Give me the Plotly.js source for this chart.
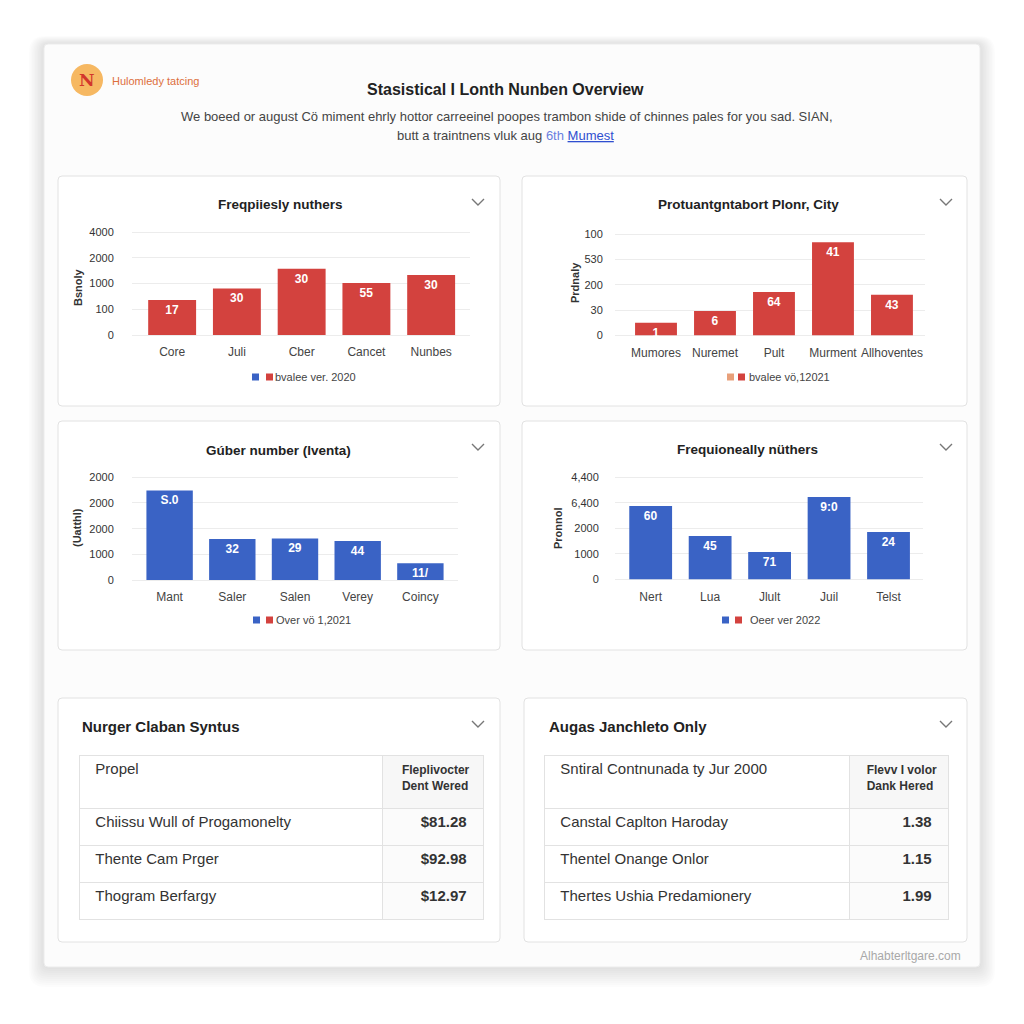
<!DOCTYPE html>
<html>
<head>
<meta charset="utf-8">
<script src="https://cdn.plot.ly/plotly-3.0.1.min.js"></script>
<style>
html,body{margin:0;padding:0;background:#ffffff;overflow:hidden;}
#chart{width:1024px;height:1024px;}
</style>
</head>
<body>
<div id="chart"></div>
<script>
// ---------- DATA ----------
const c1Title = 'Freqpiiesly nuthers';
const c1Cats = ['Core', 'Juli', 'Cber', 'Cancet', 'Nunbes'];
const c1Vals = [1.36, 1.81, 2.57, 2.02, 2.33];
const c1Labels = ['17', '30', '30', '55', '30'];
const c1Ticks = ['0', '100', '1000', '2000', '4000'];
const c1YTitle = 'Bsnoly';
const c1Legend = 'bvalee ver. 2020';

const c2Title = 'Protuantgntabort Plonr, City';
const c2Cats = ['Mumores', 'Nuremet', 'Pult', 'Murment', 'Allhoventes'];
const c2Vals = [0.5, 0.96, 1.71, 3.69, 1.61];
const c2Labels = ['1', '6', '64', '41', '43'];
const c2Ticks = ['0', '30', '200', '530', '100'];
const c2YTitle = 'Prdnaly';
const c2Legend = 'bvalee vö,12021';

const c3Title = 'Gúber number (lventa)';
const c3Cats = ['Mant', 'Saler', 'Salen', 'Verey', 'Coincy'];
const c3Vals = [3.49, 1.6, 1.62, 1.52, 0.65];
const c3Labels = ['S.0', '32', '29', '44', '11/'];
const c3Ticks = ['0', '1000', '2000', '2000', '2000'];
const c3YTitle = '(Uatthl)';
const c3Legend = 'Over vö 1,2021';

const c4Title = 'Frequioneally nüthers';
const c4Cats = ['Nert', 'Lua', 'Jlult', 'Juil', 'Telst'];
const c4Vals = [2.87, 1.7, 1.07, 3.23, 1.85];
const c4Labels = ['60', '45', '71', '9:0', '24'];
const c4Ticks = ['0', '1000', '2000', '6,400', '4,400'];
const c4YTitle = 'Pronnol';
const c4Legend = 'Oeer ver 2022';

const t1Title = 'Nurger Claban Syntus';
const t1Header = ['Propel', 'Fleplivocter<br>Dent Wered'];
const t1Names = ['Chiissu Wull of Progamonelty', 'Thente Cam Prger', 'Thogram Berfargy'];
const t1Values = ['$81.28', '$92.98', '$12.97'];

const t2Title = 'Augas Janchleto Only';
const t2Header = ['Sntiral Contnunada ty Jur 2000', 'Flevv I volor<br>Dank Hered'];
const t2Names = ['Canstal Caplton Haroday', 'Thentel Onange Onlor', 'Thertes Ushia Predamionery'];
const t2Values = ['1.38', '1.15', '1.99'];

const pageTitle = 'Stasistical I Lonth Nunben Overview';
const brand = 'Hulomledy tatcing';
const subLine1 = 'We boeed or august Cö miment ehrly hottor carreeinel poopes trambon shide of chinnes pales for you sad. SIAN,';
const subLine2a = 'butt a traintnens vluk aug';
const subLine2b = '6th';
const subLine2c = 'Mumest';
const footer = 'Alhabterltgare.com';

// ---------- STYLE ----------
const RED = '#d3423e';
const BLUE = '#3a63c5';
const FONT = 'Liberation Sans, Arial, sans-serif';
const W = 1024;
const fx = p => p / W;
const fy = p => 1 - p / W;

const shapes = [];
const annotations = [];

function ann(x, y, text, o) {
  o = o || {};
  annotations.push({
    xref: 'paper', yref: 'paper', x: fx(x), y: fy(y), text: text, showarrow: false,
    xanchor: o.xanchor || 'center', yanchor: 'middle', textangle: o.angle || 0,
    font: {family: o.family || FONT, size: o.size || 12, color: o.color || '#333', weight: o.weight || 'normal'}
  });
}
function rrect(x0, y0, x1, y1, r, fill, line, lw) {
  const X0 = fx(x0), X1 = fx(x1), Y0 = fy(y0), Y1 = fy(y1), R = r / W;
  const p = `M ${X0 + R},${Y0} L ${X1 - R},${Y0} Q ${X1},${Y0} ${X1},${Y0 - R} L ${X1},${Y1 + R} Q ${X1},${Y1} ${X1 - R},${Y1} L ${X0 + R},${Y1} Q ${X0},${Y1} ${X0},${Y1 + R} L ${X0},${Y0 - R} Q ${X0},${Y0} ${X0 + R},${Y0} Z`;
  shapes.push({type: 'path', xref: 'paper', yref: 'paper', path: p, fillcolor: fill, line: {color: line || 'rgba(0,0,0,0)', width: lw || 0}, layer: 'below'});
}
function rect(x0, y0, x1, y1, fill) {
  shapes.push({type: 'rect', xref: 'paper', yref: 'paper', x0: fx(x0), x1: fx(x1), y0: fy(y1), y1: fy(y0), fillcolor: fill, line: {width: 0}, layer: 'above'});
}
function chevron(cx, cy) {
  shapes.push({type: 'path', xref: 'paper', yref: 'paper',
    path: `M ${fx(cx - 6)},${fy(cy - 3)} L ${fx(cx)},${fy(cy + 3)} L ${fx(cx + 6)},${fy(cy - 3)}`,
    line: {color: '#777', width: 1.4}, layer: 'above'});
}

// ---------- CARD & PANELS ----------
for (let i = 10; i >= 1; i--) {
  rrect(44 - i * 1.5, 44 - i * 0.8, 980 + i * 1.5, 967 + i * 2, 6 + i, 'rgba(0,0,0,0.010)');
}
rrect(44, 44, 980, 967, 4, '#fcfcfc', '#ececec', 1);
rrect(58, 176, 500, 406, 4, '#ffffff', '#e2e2e2', 1);
rrect(522, 176, 967, 406, 4, '#ffffff', '#e2e2e2', 1);
rrect(58, 421, 500, 650, 4, '#ffffff', '#e2e2e2', 1);
rrect(522, 421, 967, 650, 4, '#ffffff', '#e2e2e2', 1);
rrect(58, 698, 500, 942, 4, '#ffffff', '#e2e2e2', 1);
rrect(524, 698, 967, 942, 4, '#ffffff', '#e2e2e2', 1);
chevron(478, 202); chevron(946, 202); chevron(478, 447); chevron(946, 447);
chevron(478, 724); chevron(946, 724);

// ---------- HEADER ----------
shapes.push({type: 'circle', xref: 'paper', yref: 'paper', x0: fx(71), x1: fx(103), y0: fy(96), y1: fy(64), fillcolor: '#f6b862', line: {width: 0}, layer: 'below'});
ann(87, 80, '<b>N</b>', {size: 17, color: '#d2362c', family: 'DejaVu Serif, serif'});
ann(110, 81, brand, {xanchor: 'left', size: 11, color: '#dd6f3c'});
ann(505, 89, pageTitle, {size: 16, color: '#222', weight: 'bold'});
ann(507, 116, subLine1, {size: 13, color: '#444'});
ann(505, 135, subLine2a + ' <span style="color:#6a7fe0">' + subLine2b + '</span> <span style="color:#2f4fd0;text-decoration:underline">' + subLine2c + '</span>', {size: 13, color: '#444'});
ann(963, 956, footer, {xanchor: 'right', size: 12, color: '#a8a8a8'});

// ---------- BAR CHARTS ----------
const data = [];
const layout = {
  width: 1024, height: 1024, margin: {l: 0, r: 0, t: 0, b: 0, pad: 0},
  paper_bgcolor: '#ffffff', plot_bgcolor: 'rgba(0,0,0,0)',
  showlegend: false, bargap: 0.26, font: {family: FONT}
};

function barChart(k, cfg) {
  const xa = k === 1 ? 'xaxis' : 'xaxis' + k;
  const ya = k === 1 ? 'yaxis' : 'yaxis' + k;
  const unit = (cfg.y0 - cfg.y4) / 4;
  const pad = 0.04;
  const topPx = cfg.y4 - pad * unit, botPx = cfg.y0 + pad * unit;
  data.push({
    type: 'bar', x: cfg.cats, y: cfg.vals, text: cfg.labels,
    xaxis: 'x' + (k === 1 ? '' : k), yaxis: 'y' + (k === 1 ? '' : k),
    marker: {color: cfg.color, line: {width: 0}}, width: cfg.bw,
    textposition: 'inside', insidetextanchor: 'end', textangle: 0, constraintext: 'none',
    textfont: {color: '#ffffff', size: 12, family: FONT, weight: 'bold'},
    hoverinfo: 'skip', cliponaxis: false
  });
  layout[xa] = {
    domain: [fx(cfg.x0), fx(cfg.x1)], anchor: 'y' + (k === 1 ? '' : k),
    type: 'category', range: cfg.xr, showgrid: false, zeroline: false, showline: false,
    ticks: 'outside', ticklen: 5, tickcolor: 'rgba(0,0,0,0)',
    tickfont: {size: 12, color: '#444', family: FONT}, fixedrange: true
  };
  layout[ya] = {
    domain: [1 - botPx / W, 1 - topPx / W], anchor: 'x' + (k === 1 ? '' : k),
    range: [-pad, 4 + pad], tickvals: cfg.ticks.map((t, i) => i), ticktext: cfg.ticks,
    showgrid: true, gridcolor: '#ececec', gridwidth: 1, zeroline: false, showline: false,
    ticks: 'outside', ticklen: cfg.tl, tickcolor: 'rgba(0,0,0,0)',
    tickfont: {size: 11, color: '#333', family: FONT}, fixedrange: true
  };
  ann(cfg.tx, cfg.ty, cfg.title, {size: 13.5, color: '#222', weight: 'bold'});
  ann(cfg.ytx, cfg.yty, cfg.ytitle, {size: 11, color: '#333', angle: -90, weight: 'bold'});
  const s = cfg.leg;
  rect(s.a, s.y - 3.5, s.a + 7, s.y + 3.5, s.ca);
  rect(s.b, s.y - 3.5, s.b + 7, s.y + 3.5, s.cb);
  ann(s.t, s.y, cfg.legend, {xanchor: 'left', size: 11, color: '#444'});
}

barChart(1, {cats: c1Cats, vals: c1Vals, labels: c1Labels, ticks: c1Ticks, color: RED, bw: 0.74,
  x0: 132, x1: 470, xr: [-0.62, 4.6], y0: 335, y4: 232, tl: 15,
  title: c1Title, tx: 280, ty: 204, ytitle: c1YTitle, ytx: 78, yty: 287,
  legend: c1Legend, leg: {a: 252, b: 266, t: 273, y: 377, ca: BLUE, cb: RED}});
barChart(2, {cats: c2Cats, vals: c2Vals, labels: c2Labels, ticks: c2Ticks, color: RED, bw: 0.71,
  x0: 615, x1: 925, xr: [-0.695, 4.56], y0: 335.3, y4: 234.3, tl: 9,
  title: c2Title, tx: 748, ty: 204, ytitle: c2YTitle, ytx: 575, yty: 283,
  legend: c2Legend, leg: {a: 727, b: 738, t: 747, y: 377, ca: '#e8a07a', cb: RED}});
barChart(3, {cats: c3Cats, vals: c3Vals, labels: c3Labels, ticks: c3Ticks, color: BLUE, bw: 0.74,
  x0: 132, x1: 458, xr: [-0.6, 4.6], y0: 580, y4: 477.3, tl: 15,
  title: c3Title, tx: 278, ty: 450, ytitle: c3YTitle, ytx: 77, yty: 528,
  legend: c3Legend, leg: {a: 253, b: 266, t: 274, y: 620, ca: BLUE, cb: RED}});
barChart(4, {cats: c4Cats, vals: c4Vals, labels: c4Labels, ticks: c4Ticks, color: BLUE, bw: 0.72,
  x0: 615, x1: 923, xr: [-0.6, 4.58], y0: 579.3, y4: 477.3, tl: 13,
  title: c4Title, tx: 747, ty: 449, ytitle: c4YTitle, ytx: 558, yty: 528,
  legend: c4Legend, leg: {a: 722, b: 735, t: 748, y: 620, ca: BLUE, cb: RED}});

// ---------- TABLES ----------
const padL = s => '\u00a0\u00a0' + s;
const padR = s => s + '\u00a0\u00a0';
function table(cfg) {
  ann(cfg.tx, 726, cfg.title, {xanchor: 'left', size: 15, color: '#222', weight: 'bold'});
  data.push({
    type: 'table',
    domain: {x: [fx(cfg.x0), fx(cfg.x1)], y: [fy(922), fy(755)]},
    columnwidth: cfg.cw,
    header: {
      values: [[padL(cfg.header[0])], [padR(cfg.header[1])]],
      align: ['left', 'right'], height: 53,
      fill: {color: ['#ffffff', '#f7f7f7']},
      line: {color: '#e2e2e2', width: 1},
      font: {family: FONT, size: [15, 12], color: ['#333', '#333'], weight: ['normal', 'bold']}
    },
    cells: {
      values: [cfg.names.map(padL), cfg.values.map(padR)],
      align: ['left', 'right'], height: 37,
      fill: {color: ['#ffffff', '#fbfbfb']},
      line: {color: '#e2e2e2', width: 1},
      font: {family: FONT, size: 15, color: ['#333', '#333'], weight: ['normal', 'bold']}
    }
  });
}
table({title: t1Title, tx: 80, x0: 79, x1: 483, cw: [303, 101], header: t1Header, names: t1Names, values: t1Values});
table({title: t2Title, tx: 547, x0: 544, x1: 948, cw: [305, 99], header: t2Header, names: t2Names, values: t2Values});

layout.shapes = shapes;
layout.annotations = annotations;
Plotly.newPlot('chart', data, layout, {displayModeBar: false, staticPlot: true});
</script>
</body>
</html>
